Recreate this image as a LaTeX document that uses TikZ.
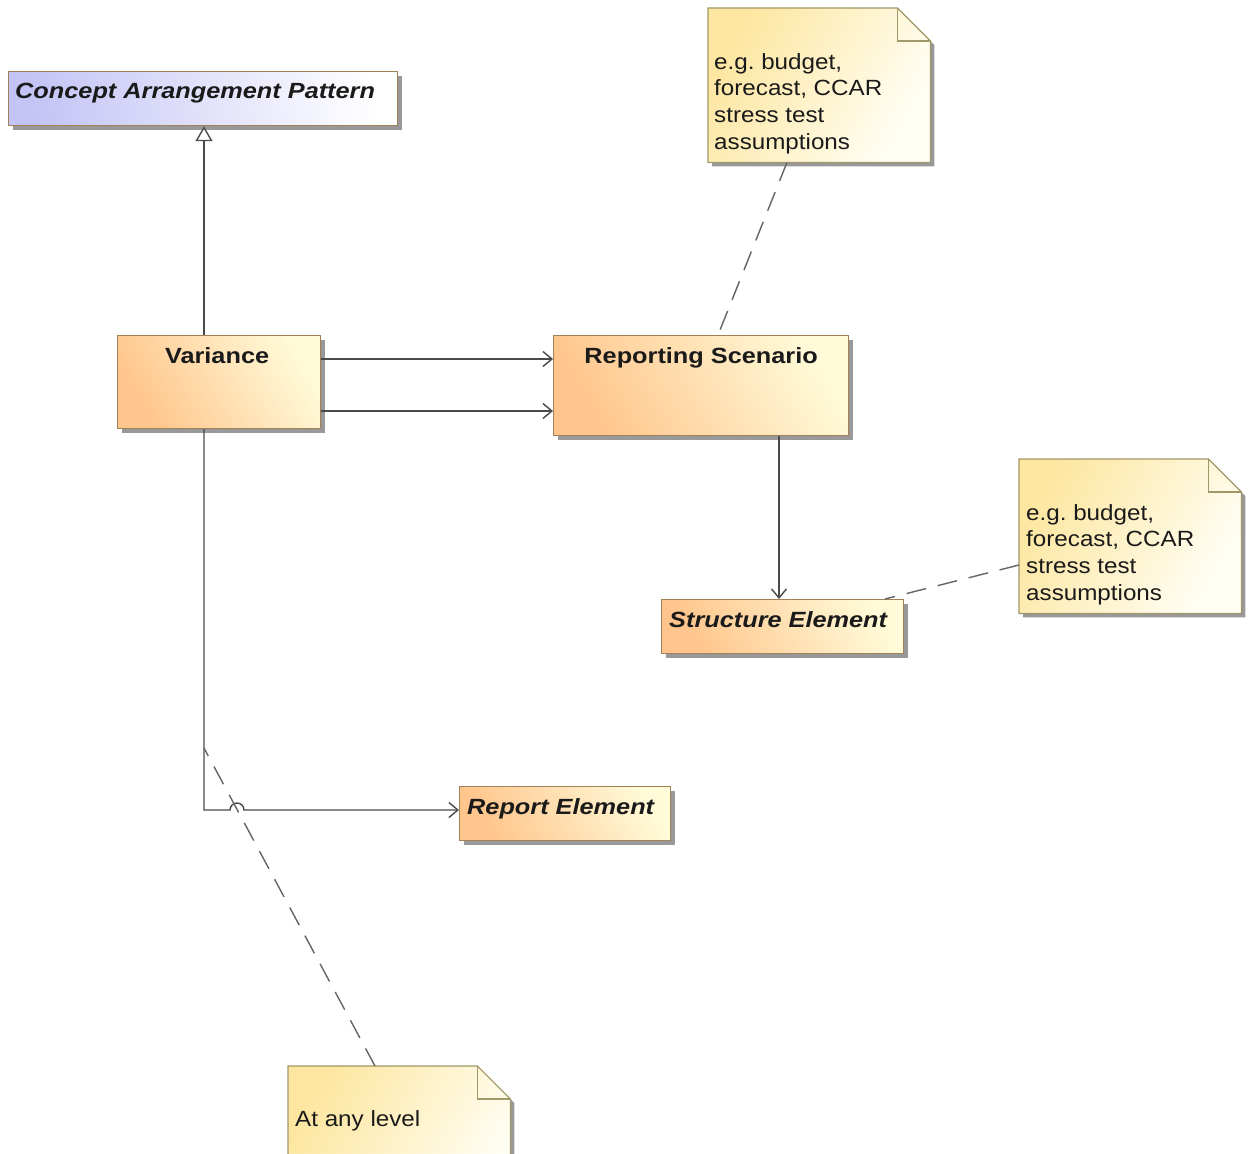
\documentclass[tikz,border=0pt]{standalone}
\usepackage{fontspec}
\setmainfont{Liberation Sans}
\newfontfamily\notefont{Liberation Sans}[FakeStretch=1.10]
\newfontfamily\namefont{Liberation Sans}[FakeStretch=1.15]
\usetikzlibrary{arrows.meta,calc,shadows}

\definecolor{clsA}{HTML}{FFC58C}
\definecolor{clsB}{HTML}{FFFAD8}
\definecolor{absA}{HTML}{C4C4F6}
\definecolor{absB}{HTML}{FFFFFF}
\definecolor{noteA}{HTML}{FDE6A0}
\definecolor{noteB}{HTML}{FFFFF6}
\definecolor{clsedge}{HTML}{A0825A}
\definecolor{noteedge}{HTML}{A09868}
\definecolor{wire}{HTML}{4A4A4A}
\definecolor{ink}{HTML}{1A1A1A}

\tikzset{
  shadowed/.style={drop shadow={shadow xshift=4pt, shadow yshift=-4pt, fill=black!40, opacity=1}},
  clsbox/.style={draw=clsedge, line width=1.2pt, shadowed, left color=clsA, right color=clsB,
    shading angle=120, inner sep=0pt, anchor=north west},
  absbox/.style={clsbox, left color=absA, right color=absB, shading angle=100},
  clsname/.style={font=\namefont\fontsize{22}{26}\selectfont\bfseries, text=ink, inner sep=0pt, anchor=base},
  absname/.style={font=\namefont\fontsize{22}{26}\selectfont\bfseries\itshape, text=ink, inner sep=0pt, anchor=base west},
  notebox/.style={inner sep=0pt, anchor=north west, minimum width=222pt, minimum height=154pt},
  notefill/.style={draw=noteedge, line width=1.2pt, shadowed, left color=noteA, right color=noteB, shading angle=60},
  notetext/.style={font=\notefont\fontsize{22}{26.7}\selectfont\frenchspacing, text=ink, align=left, inner sep=0pt, anchor=north west},
  wireline/.style={draw=wire, line width=1.4pt},
  assoc/.style={wireline, -{Straight Barb[length=9pt,width=15pt]}},
  general/.style={wireline, -{Triangle[open, length=15pt, width=17pt, fill=white]}},
  anchorline/.style={draw=wire!85, line width=1.4pt, dash pattern=on 20pt off 12pt},
}

% draws the dog-eared outline of a note node
\newcommand{\notepaper}[1]{%
  \path[notefill] (#1.north west) -- ($(#1.north east)+(-33,0)$) -- ($(#1.north east)+(0,33)$)
    -- (#1.south east) -- (#1.south west) -- cycle;
  \draw[noteedge, line width=1.2pt] ($(#1.north east)+(-33,0)$) |- ($(#1.north east)+(0,33)$);
}

\begin{document}
\begin{tikzpicture}[x=1pt, y=-1pt]
\useasboundingbox (0,0) rectangle (1249,1153);
\fill[white] (0,0) rectangle (1249,1153);
\clip (0,0) rectangle (1249,1153);

% classes
\node[absbox, minimum width=389pt, minimum height=54pt] (cap) at (8,71) {};
\node[absname] (capname) at ($(cap.north west)+(7,28)$) {Concept Arrangement Pattern};

\node[clsbox, minimum width=203pt, minimum height=93pt] (variance) at (117,335) {};
\node[clsname] (variancename) at ($(variance.north)+(-2,28)$) {Variance};

\node[clsbox, minimum width=295pt, minimum height=100pt] (scen) at (553,335) {};
\node[clsname] (scenname) at ($(scen.north)+(0,28)$) {Reporting Scenario};

\node[clsbox, minimum width=242pt, minimum height=54pt] (struct) at (661,599) {};
\node[absname] (structname) at ($(struct.north west)+(8,28)$) {Structure Element};

\node[clsbox, minimum width=211pt, minimum height=54pt] (report) at (459,786) {};
\node[absname] (reportname) at ($(report.north west)+(8,28)$) {Report Element};

% notes
\node[notebox] (n1) at (708,8) {};
\notepaper{n1}
\node[notetext] (n1text) at ($(n1.north west)+(6,45)$) {e.g. budget,\\forecast, CCAR\\stress test\\assumptions};

\node[notebox] (n2) at (1019,459) {};
\notepaper{n2}
\node[notetext] (n2text) at ($(n2.north west)+(7,45)$) {e.g. budget,\\forecast, CCAR\\stress test\\assumptions};

\node[notebox] (n3) at (288,1066) {};
\notepaper{n3}
\node[notetext] (n3text) at ($(n3.north west)+(7,44)$) {At any level};

% connectors
\coordinate (vx) at (204,0);
\coordinate (sx) at (779,0);
\draw[general] (variance.north -| vx) -- (cap.south -| vx);

\coordinate (a1) at ($(variance.north east)+(0,24)$);
\coordinate (a2) at ($(variance.north east)+(0,76)$);
\draw[assoc] (a1) -- (a1 -| scen.west);
\draw[assoc] (a2) -- (a2 -| scen.west);

\draw[assoc] (scen.south -| sx) -- (struct.north -| sx);

\coordinate (r1) at ($(report.north west)+(0,24)$);
\coordinate (corner) at (vx |- r1);
\draw[assoc] (variance.south -| vx) -- (corner) -- ($(corner)+(26,0)$)
  arc[start angle=180, end angle=0, radius=7pt] -- (r1);

% note anchors
\coordinate (onassoc) at ($(corner)+(0,-62)$);
\draw[anchorline] ($(n1.south west)+(79,0)$) -- ($(scen.north west)+(165,0)$);
\draw[anchorline] ($(n2.north west)+(0,106)$) -- ($(struct.north west)+(224,0)$);
\draw[anchorline] ($(n3.north west)+(87,0)$) -- (onassoc);
\end{tikzpicture}
\end{document}
